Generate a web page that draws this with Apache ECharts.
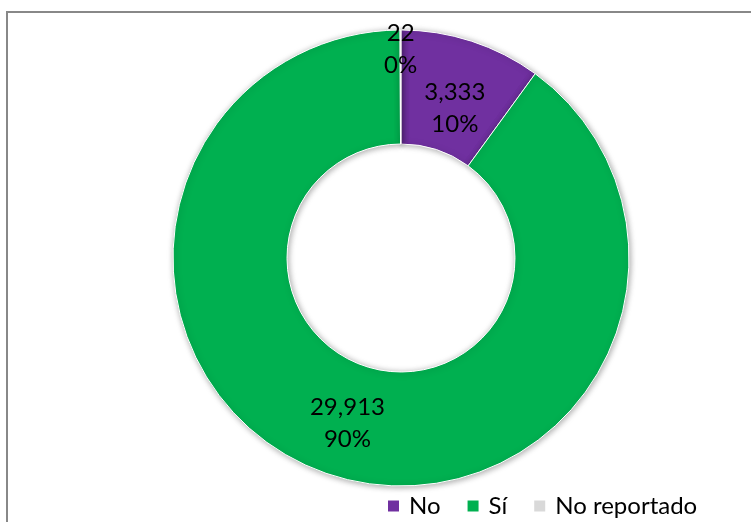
<!DOCTYPE html>
<html><head><meta charset="utf-8">
<script src="https://cdn.jsdelivr.net/npm/echarts@6/dist/echarts.min.js"></script>
<style>html,body{margin:0;padding:0;background:#fff}#c{width:751px;height:522px}</style>
</head><body><div id="c"></div>
<script>
const categories = ['No', 'Sí', 'No reportado'];
const values = [3333, 29913, 22];
const percents = ['10%', '90%', '0%'];
const colors = ['#7030A0', '#00B050', '#D9D9D9'];

const chart = echarts.init(document.getElementById('c'));
// spacer before / after label text (rich token heights) to mimic the original label placement
const spacerBefore = [32, 0, 0];
const spacerAfter = [0, 0, 70];
const data = categories.map((n, i) => ({
  name: n, value: values[i],
  itemStyle: { color: colors[i] }
}));
chart.setOption({
  animation: false,
  graphic: [{
    type: 'rect', shape: { x: 7, y: 12, width: 770, height: 540 },
    style: { fill: 'none', stroke: '#888888', lineWidth: 2 }, z: 0
  }],
  legend: {
    data: categories, left: 386, top: 494, padding: 0, icon: 'rect',
    itemWidth: 13, itemHeight: 13, itemGap: 25,
    textStyle: { fontFamily: 'Lato', fontSize: 24, color: '#000', padding: [0, 0, 0, 4] }
  },
  series: [{
    type: 'pie', center: [401, 258], radius: [114, 228], startAngle: 90, clockwise: true,
    avoidLabelOverlap: false,
    itemStyle: { borderColor: '#fff', borderWidth: 1, shadowBlur: 6, shadowColor: 'rgba(0,0,0,0.35)', shadowOffsetX: 1, shadowOffsetY: 1 },
    label: {
      show: true, position: 'inside', color: '#000', fontFamily: 'Lato', fontSize: 24, lineHeight: 32,
      formatter: p => {
        const i = p.dataIndex;
        let s = '';
        if (spacerBefore[i]) s += '{b' + i + '| }\n';
        s += '{a|' + p.value.toLocaleString('en-US') + '}\n{a|' + percents[i] + '}';
        if (spacerAfter[i]) s += '\n{c' + i + '| }';
        return s;
      },
      rich: {
        a: { fontFamily: 'Lato', fontSize: 24, lineHeight: 32, color: '#000' },
        b0: { fontSize: 10, lineHeight: 32 },
        c2: { fontSize: 10, lineHeight: 70 }
      }
    },
    labelLine: { show: false },
    data: data
  }]
});
</script></body></html>
